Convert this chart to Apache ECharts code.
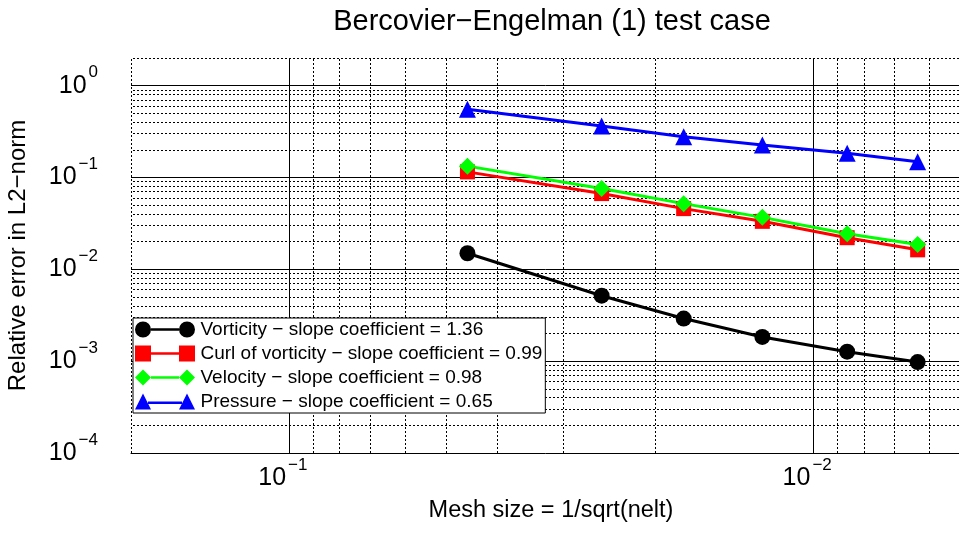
<!DOCTYPE html>
<html>
<head>
<meta charset="utf-8">
<script src="https://cdn.jsdelivr.net/npm/echarts@6/dist/echarts.min.js"></script>
<style>
html, body { margin: 0; padding: 0; background: #fff; }
#main { width: 959px; height: 533px; }
</style>
</head>
<body>
<div id="main"></div>
<script>
// mesh size h = 1/sqrt(nelt)
var meshSize = [0.04564, 0.02532, 0.01766, 0.0125, 0.008613, 0.00632];
var vorticity = [0.01496, 0.00516, 0.00291, 0.001836, 0.001268, 0.000977];
var curlVorticity = [0.1151, 0.0668, 0.0458, 0.0333, 0.0221, 0.0163];
var velocity = [0.1329, 0.0758, 0.0519, 0.0368, 0.0244, 0.0186];
var pressure = [0.5546, 0.364, 0.278, 0.2254, 0.1832, 0.1483];
var seriesNames = [
    "Vorticity − slope coefficient = 1.36",
    "Curl of vorticity − slope coefficient = 0.99",
    "Velocity − slope coefficient = 0.98",
    "Pressure − slope coefficient = 0.65"
];
var xRange = [0.005, 0.2];
var yRange = [1e-4, 2];
var xDecades = [1e-3, 1e-2, 1e-1];
var yDecades = [1e-4, 1e-3, 1e-2, 1e-1, 1];
var minorSteps = [2, 3, 4, 5, 6, 7, 8, 9];

var FONT = "Liberation Sans, Arial, Helvetica, sans-serif";

// legend icons: line with a marker at each end
var iconCircle = "path://M0,8a8,8 0 1,0 16,0a8,8 0 1,0 -16,0z M16,6.8L44,6.8L44,9.2L16,9.2z M44,8a8,8 0 1,0 16,0a8,8 0 1,0 -16,0z";
var iconSquare = "path://M0,0L16,0L16,16L0,16z M16,6.8L44,6.8L44,9.2L16,9.2z M44,0L60,0L60,16L44,16z";
var iconDiamond = "path://M8,0L16,8L8,16L0,8z M16,6.8L44,6.8L44,9.2L16,9.2z M52,0L60,8L52,16L44,8z";
var iconTriangle = "path://M8,0L16,16L0,16z M13,8L47,8L47,10.4L13,10.4z M52,0L60,16L44,16z";

function minorValues(decades, range) {
    var out = [];
    for (var i = 0; i < decades.length; i++) {
        for (var j = 0; j < minorSteps.length; j++) {
            var v = decades[i] * minorSteps[j];
            if (v >= range[0] * 0.999 && v <= range[1] * 1.001) out.push(v);
        }
    }
    return out;
}

function powLabel(v) {
    var e = Math.log10(v);
    var r = Math.round(e);
    if (Math.abs(e - r) > 1e-6) return "";
    return "{b|10}{s|" + (r < 0 ? "−" + (-r) : r) + "}";
}

var labelRich = {
    b: { fontSize: 25, lineHeight: 43, fontFamily: FONT, color: "#000" },
    s: { fontSize: 17, lineHeight: 17, verticalAlign: "top", padding: [0, 0, 0, 2], fontFamily: FONT, color: "#000" }
};

function makeSeries(name, values, symbol, size, color) {
    var data = [];
    for (var i = 0; i < meshSize.length; i++) data.push([meshSize[i], values[i]]);
    return {
        name: name,
        type: "line",
        data: data,
        symbol: symbol,
        symbolSize: size,
        showSymbol: true,
        z: 3,
        lineStyle: { color: color, width: 3 },
        itemStyle: { color: color, borderWidth: 0 }
    };
}

var gridLines = [];
minorValues(xDecades, xRange).forEach(function (v) { gridLines.push({ xAxis: v }); });
minorValues(yDecades, yRange).forEach(function (v) { gridLines.push({ yAxis: v }); });

var chart = echarts.init(document.getElementById("main"));
var option = {
    animation: false,
    backgroundColor: "#fff",
    title: {
        text: "Bercovier−Engelman (1) test case",
        left: 547,
        top: 2,
        textAlign: "center",
        textStyle: { fontSize: 29, fontWeight: "normal", color: "#000", fontFamily: FONT }
    },
    grid: {
        left: 131,
        top: 58,
        right: -12,
        bottom: 80,
        containLabel: false,
        outerBoundsMode: "none"
    },
    legend: {
        orient: "vertical",
        left: 133,
        top: 318,
        z: 10,
        itemWidth: 61,
        itemHeight: 16,
        itemGap: 1,
        padding: [0, 3, 0, 2],
        backgroundColor: "#fff",
        borderColor: "#000",
        borderWidth: 1,
        selectedMode: false,
        itemStyle: { borderWidth: 0 },
        textStyle: { fontSize: 19, color: "#000", fontFamily: FONT, lineHeight: 23 },
        data: [
            { name: seriesNames[0], icon: iconCircle },
            { name: seriesNames[1], icon: iconSquare },
            { name: seriesNames[2], icon: iconDiamond },
            { name: seriesNames[3], icon: iconTriangle }
        ]
    },
    xAxis: {
        type: "log",
        logBase: 10,
        inverse: true,
        min: xRange[0],
        max: xRange[1],
        name: "Mesh size = 1/sqrt(nelt)",
        nameLocation: "middle",
        nameGap: 46,
        nameTextStyle: { fontSize: 23.5, color: "#000", fontFamily: FONT },
        axisLine: { show: true, onZero: false, lineStyle: { color: "#000", width: 1 } },
        axisTick: { show: false },
        splitLine: { show: true, showMinLine: false, showMaxLine: false, lineStyle: { color: "#000", width: 1 } },
        axisLabel: { formatter: powLabel, margin: 4, padding: [0, 12, 0, 0], rich: labelRich }
    },
    yAxis: {
        type: "log",
        logBase: 10,
        min: yRange[0],
        max: yRange[1],
        name: "Relative error in L2−norm",
        nameLocation: "middle",
        nameGap: 101,
        nameTextStyle: { fontSize: 24, color: "#000", fontFamily: FONT },
        axisLine: { show: false },
        axisTick: { show: false },
        splitLine: { show: true, showMinLine: false, showMaxLine: false, lineStyle: { color: "#000", width: 1 } },
        axisLabel: { formatter: powLabel, margin: 33, rich: labelRich }
    },
    series: [
        {
            name: "minor grid",
            type: "line",
            data: [],
            silent: true,
            z: 1,
            markLine: {
                silent: true,
                z: 1,
                symbol: "none",
                precision: 10,
                label: { show: false },
                emphasis: { disabled: true },
                lineStyle: { color: "#000", width: 1, type: [2, 2] },
                data: gridLines
            }
        },
        makeSeries(seriesNames[0], vorticity, "circle", 16, "#000000"),
        makeSeries(seriesNames[1], curlVorticity, "rect", 15, "#ff0000"),
        makeSeries(seriesNames[2], velocity, "diamond", 17, "#00ff00"),
        makeSeries(seriesNames[3], pressure, "triangle", 17, "#0000ff")
    ]
};
chart.setOption(option);
</script>
</body>
</html>
